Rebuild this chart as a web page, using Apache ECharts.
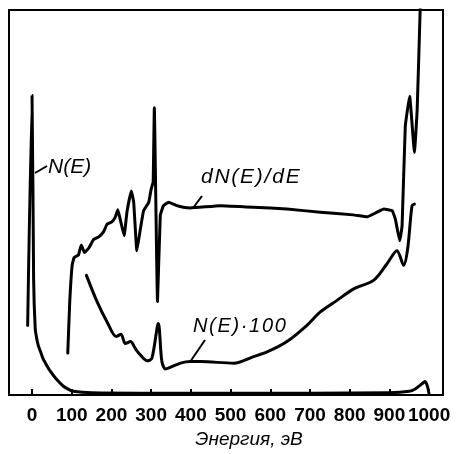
<!DOCTYPE html>
<html>
<head>
<meta charset="utf-8">
<script src="https://cdn.jsdelivr.net/npm/echarts@6/dist/echarts.min.js"></script>
<style>html,body{margin:0;padding:0;background:#fff}#c{width:465px;height:454px}</style>
</head>
<body>
<div id="c"></div>
<script>
// Energy tick labels (eV)
const energyTicks = [0, 100, 200, 300, 400, 500, 600, 700, 800, 900, 1000];

// N(E) — [energy, intensity]
const nE = [
  [-11, 18.1], [0, 77.8], [4, 30.2], [8, 17.3], [12, 14.6], [16, 12.8], [21, 11.4],
  [28, 9.4], [36, 7.9], [46, 6.2], [60, 4.3], [79, 2.3], [92, 1.5], [104, 1.0],
  [150, 0.6], [300, 0.5], [500, 0.5], [700, 0.5], [900, 0.6], [950, 1.0],
  [965, 1.6], [978, 2.6], [990, 3.5], [996, 2.2], [1000, 0.2]
];

// dN(E)/dE
const dNdE = [
  [90, 10.9], [95, 24.3], [101, 33.7], [106, 35.7], [117, 36.4], [124, 39.0],
  [132, 37.0], [143, 38.2], [155, 40.4], [168, 41.1], [180, 42.4], [189, 44.4],
  [201, 45.0], [210, 46.3], [216, 48.1], [222, 45.7], [232, 41.4], [239, 47.5],
  [250, 53.0], [256, 50.1], [264, 37.5], [273, 43.2], [281, 47.9], [294, 50.1],
  [300, 53.5], [305, 55.3], [308, 74.6], [316, 24.3], [323, 46.6], [331, 49.2],
  [344, 50.1], [365, 49.2], [381, 48.8], [399, 48.6], [474, 49.2], [557, 48.8],
  [642, 48.3], [726, 47.5], [809, 46.8], [844, 46.3], [869, 47.5], [886, 48.3],
  [907, 47.9], [915, 45.7], [926, 40.1], [932, 44.0], [940, 69.8], [951, 77.6],
  [963, 63.0], [970, 74.2], [978, 102]
];

// N(E)·100
const nE100 = [
  [137, 31.1], [164, 24.2], [189, 19.0], [212, 15.2], [224, 15.8], [235, 13.4],
  [248, 13.9], [260, 12.1], [273, 10.4], [290, 8.9], [302, 9.6], [318, 18.6],
  [327, 8.7], [336, 6.8], [348, 7.2], [374, 8.3], [399, 8.7], [424, 8.7],
  [508, 8.3], [558, 10.0], [592, 11.2], [642, 13.9], [693, 18.2], [726, 21.6],
  [768, 24.6], [810, 27.6], [860, 29.8], [894, 34.1], [919, 37.5], [936, 33.7],
  [946, 38.0], [957, 49.2], [963, 49.6]
];

const chart = echarts.init(document.getElementById('c'), null, {renderer: 'canvas'});
const lineStyle = {color: '#000', width: 3, cap: 'round', join: 'round'};
const mk = (name, data, smooth) => ({
  name, type: 'line', data, showSymbol: false, symbol: 'none',
  lineStyle, smooth, animation: false, clip: true
});
const txtFont = "'Liberation Sans', Arial, sans-serif";
const hs = '\u200A';
chart.setOption({
  animation: false,
  backgroundColor: '#fff',
  grid: {left: 9, right: 22, top: 10, bottom: 57, show: true, borderColor: '#000', borderWidth: 2, backgroundColor: 'transparent'},
  xAxis: {
    type: 'value', min: -58, max: 1035,
    axisLine: {show: true, lineStyle: {color: '#000', width: 2}},
    axisTick: {show: true, inside: true, length: 6, lineStyle: {color: '#000', width: 2}, customValues: energyTicks},
    axisLabel: {
      show: true, customValues: energyTicks, margin: 11, color: '#000',
      fontSize: 19, fontWeight: 'bold', showMinLabel: true, showMaxLabel: true, hideOverlap: false,
      formatter: v => String(v),
      fontFamily: "'Liberation Sans Narrow', 'Liberation Sans', Arial, sans-serif"
    },
    splitLine: {show: false},
    name: 'Энергия, эВ', nameLocation: 'middle', nameGap: 33,
    nameTextStyle: {color: '#000', fontSize: 19, fontStyle: 'italic', fontFamily: txtFont, padding: [0, 0, 0, 46]}
  },
  yAxis: {
    type: 'value', min: 0, max: 100,
    axisLine: {show: false}, axisTick: {show: false}, axisLabel: {show: false}, splitLine: {show: false}
  },
  series: [mk('N(E)', nE, 0.2), mk('dN(E)/dE', dNdE, 0.1), mk('N(E)·100', nE100, 0.3)],
  graphic: [
    {type: 'text', left: 48, top: 157, style: {text: 'N(E)', fill: '#000', font: 'italic 21px ' + txtFont}},
    {type: 'line', shape: {x1: 35, y1: 173, x2: 47, y2: 166}, style: {stroke: '#000', lineWidth: 2}},
    {type: 'text', left: 201, top: 167, style: {text: ['d', 'N', '(', 'E', ')', '/', 'd', 'E'].join(hs), fill: '#000', font: 'italic 21px ' + txtFont}},
    {type: 'line', shape: {x1: 193, y1: 208, x2: 202, y2: 196}, style: {stroke: '#000', lineWidth: 2}},
    {type: 'text', left: 193, top: 316, style: {text: ['N', '(', 'E', ')', '·', '1', '0', '0'].join(hs), fill: '#000', font: 'italic 20px ' + txtFont}},
    {type: 'line', shape: {x1: 190, y1: 362, x2: 205, y2: 340}, style: {stroke: '#000', lineWidth: 2}}
  ]
});
</script>
</body>
</html>
